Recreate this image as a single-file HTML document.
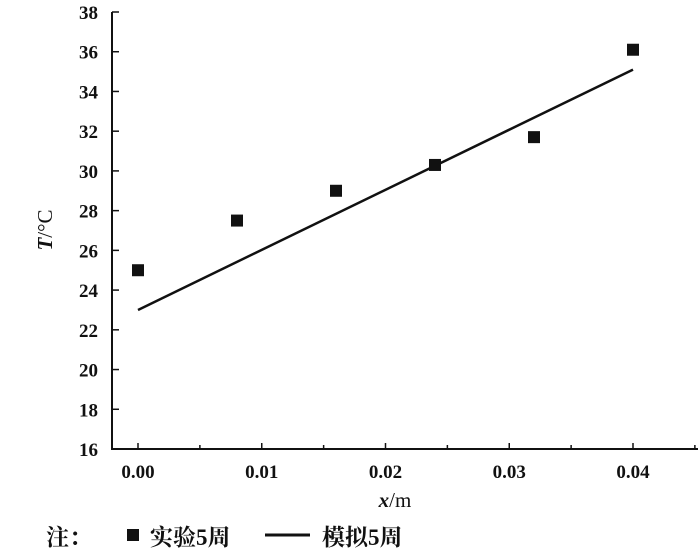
<!DOCTYPE html>
<html><head><meta charset="utf-8"><style>
body{margin:0;background:#fff;}
svg text{font-family:"Liberation Serif","Noto Serif CJK SC",serif;fill:#111;}
</style></head><body>
<svg width="700" height="552">
<g id="axes"></g><g id="marks"></g>
<text x="395" y="507" text-anchor="middle" font-size="21"><tspan font-style="italic" font-weight="bold">x</tspan>/m</text>
<text transform="translate(52,230) rotate(-90)" text-anchor="middle" font-size="21"><tspan font-style="italic" font-weight="bold">T</tspan>/°C</text>
<g>
<text x="46" y="545" font-size="23" font-weight="bold">注：</text>
<rect x="127" y="529" width="12" height="12" fill="#111"/>
<text x="150" y="545" font-size="23" font-weight="bold">实验5周</text>
<line x1="265" y1="535" x2="310" y2="535" stroke="#111" stroke-width="3"/>
<text x="322" y="545" font-size="23" font-weight="bold">模拟5周</text>
</g>
</svg>
<script>
const yTicks=[16,18,20,22,24,26,28,30,32,34,36,38];
const xTicks=[0,0.01,0.02,0.03,0.04];
const xTickLabels=["0.00","0.01","0.02","0.03","0.04"];
const expX=[0,0.008,0.016,0.024,0.032,0.04];
const expT=[25.0,27.5,29.0,30.3,31.7,36.1];
const simX=[0,0.04];
const simT=[23.0,35.1];
const NS="http://www.w3.org/2000/svg";
const X=v=>138+v/0.04*495;
const Y=v=>449-(v-16)/22*437;
const ax=document.getElementById('axes'),mk=document.getElementById('marks');
function mk_(tag,a,p){const e=document.createElementNS(NS,tag);for(const k in a)e.setAttribute(k,a[k]);p.appendChild(e);return e;}
let l=mk_('line',{x1:112,y1:Y(38),x2:112,y2:449,stroke:'#111','stroke-width':2},ax);


l=mk_('line',{x1:111,y1:449,x2:698,y2:449,stroke:'#111','stroke-width':2},ax);


yTicks.forEach(v=>{
 const t=mk_('line',{x1:112,y1:Y(v),x2:119,y2:Y(v),stroke:'#111','stroke-width':1.5},ax);
 
 
 const s=mk_('text',{x:98,y:Y(v)+7,'text-anchor':'end','font-size':19,'font-weight':'bold'},ax);
 s.textContent=v;
 
 
});
for(let i=0;i<=10;i++){
 const v=-0.005+i*0.005;if(v<0)continue;
 const major=i%2===1;
 const t=mk_('line',{x1:X(v),y1:449,x2:X(v),y2:major?443:445,stroke:'#111','stroke-width':1.5},ax);
 
 
}
xTicks.forEach((v,i)=>{
 const s=mk_('text',{x:X(v),y:478,'text-anchor':'middle','font-size':19,'font-weight':'bold'},ax);
 s.textContent=xTickLabels[i];
 
 
});
const ln=mk_('line',{x1:X(simX[0]),y1:Y(simT[0]),x2:X(simX[1]),y2:Y(simT[1]),stroke:'#111','stroke-width':2.5},mk);


expX.forEach((x,i)=>{
 const r=mk_('rect',{x:X(x)-6,y:Y(expT[i])-6,width:12,height:12,fill:'#111'},mk);
 
 
});
</script>
</body></html>
